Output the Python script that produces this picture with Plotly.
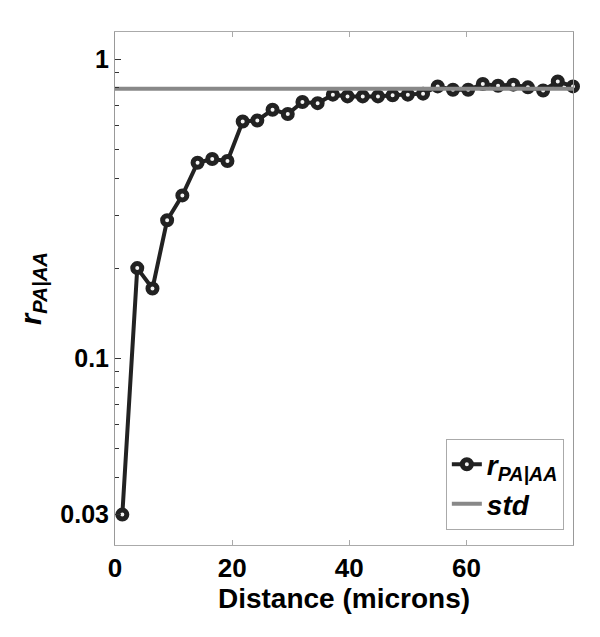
import plotly.graph_objects as go
import math

distance = [1.25, 3.8, 6.4, 8.9, 11.5, 14.1, 16.6, 19.2, 21.8, 24.3, 26.9, 29.5,
            32.0, 34.6, 37.2, 39.7, 42.3, 44.9, 47.4, 50.0, 52.6, 55.1, 57.7,
            60.3, 62.8, 65.4, 68.0, 70.5, 73.1, 75.6, 78.2]
r_pa_aa = [0.030, 0.200, 0.171, 0.289, 0.350, 0.450, 0.463, 0.456, 0.618, 0.623,
           0.677, 0.655, 0.718, 0.712, 0.760, 0.750, 0.750, 0.750, 0.756, 0.760,
           0.766, 0.810, 0.789, 0.789, 0.825, 0.814, 0.821, 0.804, 0.785, 0.841,
           0.810]
std_x = [0, 78.2]
std_y = [0.796, 0.796]

x_ticks = [0, 20, 40, 60]
y_major = [0.03, 0.1, 1]
y_major_text = ["0.03", "0.1", "1"]
y_minor = [0.04, 0.05, 0.06, 0.07, 0.08, 0.09, 0.2, 0.3, 0.4, 0.5, 0.6, 0.7, 0.8, 0.9]

FONT = "Liberation Sans, Arial, sans-serif"

fig = go.Figure()
fig.add_trace(go.Scatter(
    x=distance, y=r_pa_aa, mode="lines+markers",
    name="<b><i>r<sub>PA|AA</sub></i></b>",
    line=dict(color="#222222", width=4),
    marker=dict(symbol="circle", size=9, color="#f4f4f4",
                line=dict(color="#222222", width=5)),
    cliponaxis=False, legendrank=1,
))
fig.add_trace(go.Scatter(
    x=std_x, y=std_y, mode="lines", name="<b><i>std</i></b>",
    line=dict(color="#888888", width=4), legendrank=2,
))

fig.update_layout(
    width=600, height=637,
    margin=dict(l=107, r=35, t=24, b=100),
    plot_bgcolor="white", paper_bgcolor="white",
    font=dict(family=FONT, color="black"),
    showlegend=True,
    legend=dict(x=0.98, y=0.03, xanchor="right", yanchor="bottom",
                bgcolor="white", bordercolor="#aaaaaa", borderwidth=1,
                font=dict(size=28, family=FONT), tracegroupgap=0,
                itemwidth=30),
    xaxis=dict(
        range=[0, 78.2], tickvals=x_ticks,
        ticktext=[f"<b>{v}</b>" for v in x_ticks],
        ticks="inside", ticklen=5, tickcolor="#aaaaaa",
        showline=True, linecolor="#aaaaaa", linewidth=1, mirror="ticks",
        showgrid=False, zeroline=False,
        tickfont=dict(size=26, family=FONT),
        title=dict(text="<b>Distance (microns)</b>", font=dict(size=28, family=FONT),
                   standoff=0),
    ),
    yaxis=dict(
        type="log", range=[math.log10(0.02374), math.log10(1.231)],
        tickvals=y_major, ticktext=[f"<b>{t}</b>" for t in y_major_text],
        ticks="inside", ticklen=6, tickcolor="#333333",
        minor=dict(tickvals=y_minor, ticks="inside", ticklen=4, tickcolor="#333333"),
        showline=True, linecolor="#999999", linewidth=1, mirror=True,
        showgrid=False, zeroline=False,
        tickfont=dict(size=25, family=FONT),
        title=dict(text="<b><i>r<sub>PA|AA</sub></i></b>", font=dict(size=29, family=FONT),
                   standoff=10),
    ),
)

fig.write_html("out.html")
